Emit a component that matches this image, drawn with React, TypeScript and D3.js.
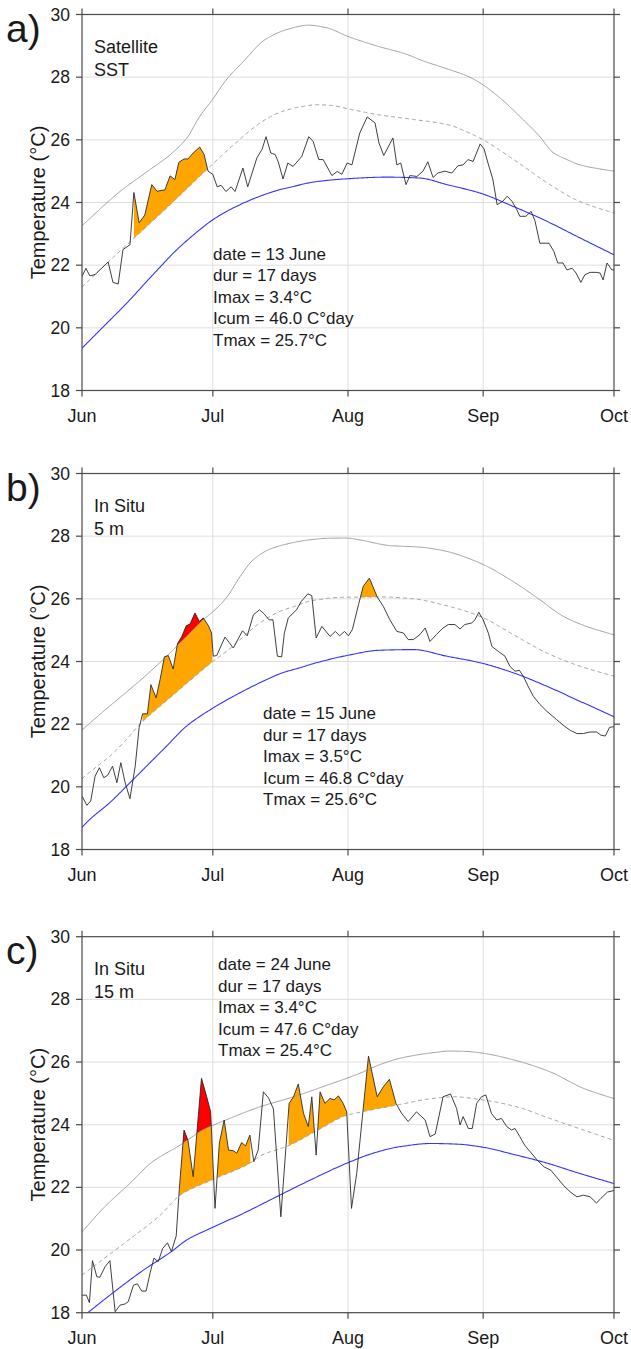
import React from 'react';
import * as d3 from 'd3';

// ---------------- data ----------------
const monthTickDays = [0, 30, 61, 92, 122];
const monthLabels = ['Jun', 'Jul', 'Aug', 'Sep', 'Oct'];
const tempTicks = [18, 20, 22, 24, 26, 28, 30];

// Panel a) Satellite SST  [day since 1 June, °C]
const obsA: [number, number][] = [
  [0, 21.64], [0.9, 21.9], [1.8, 21.66], [3, 21.7], [4.1, 21.85], [6, 22.1], [7.1, 21.45], [8.3, 21.4],
  [9.4, 22.5], [11, 22.65], [11.9, 24.32], [13.1, 23.35], [14.4, 23.6], [16, 24.57], [17.2, 24.36],
  [19, 24.4], [20.2, 24.85], [21.3, 24.73], [22.2, 25.28], [23.4, 25.39], [24.3, 25.39], [25.5, 25.58],
  [27, 25.77], [28, 25.53], [28.9, 25.0], [30, 24.9], [31, 24.5], [31.9, 24.55], [33, 24.35], [34.2, 24.5],
  [35.1, 24.35], [36.9, 25.1], [38, 24.5], [40.1, 25.42], [41.3, 25.7], [42.2, 26.1], [43.3, 25.58],
  [44.3, 25.53], [45, 25.3], [46.1, 24.75], [47.2, 25.26], [48.4, 25.15], [50.4, 25.47], [52, 26.1],
  [53, 25.95], [54.3, 25.37], [55.3, 25.37], [57.3, 24.86], [58.5, 24.99], [59.6, 24.9], [60.8, 25.26],
  [61.9, 25.2], [63.7, 26.22], [65.4, 26.73], [67.2, 26.54], [68.1, 25.9], [69.2, 25.5], [71.3, 26.06],
  [72.2, 25.2], [73.1, 25.26], [74.3, 24.57], [75.2, 24.86], [76.8, 24.83], [78.2, 25.0], [79.3, 25.3],
  [80.5, 24.8], [81.6, 24.94], [83.2, 25.0], [84.8, 24.94], [86.2, 25.17], [87.4, 25.2], [88.5, 25.37],
  [89.7, 25.31], [91.3, 25.87], [92.2, 25.71], [93.1, 25.26], [94.2, 24.75], [95.2, 23.93], [96.5, 24.04],
  [97.5, 24.2], [98.6, 24.04], [99.7, 23.77], [100.4, 23.56], [101.8, 23.56], [103, 23.72], [103.9, 23.4],
  [105, 22.7], [106.2, 22.7], [107.1, 22.7], [108.2, 22.44], [109.1, 22.07], [110.3, 22.07], [111.2, 21.85],
  [112.4, 21.9], [113.3, 21.75], [114.4, 21.45], [115.3, 21.69], [116.5, 21.77], [117.9, 21.77],
  [118.8, 21.75], [119.5, 21.53], [120.4, 22.07], [121.5, 21.85], [122, 21.85],
];
const threshA: [number, number][] = [
  [0, 21.3], [6, 22.1], [12, 22.87], [20, 23.9], [29, 25.1], [35, 25.87], [41.5, 26.6], [45.4, 26.88],
  [50, 27.05], [54, 27.12], [57, 27.1], [61, 26.99], [68, 26.8], [76, 26.65], [84, 26.48], [88, 26.27],
  [92, 26.0], [99, 25.37], [107, 24.6], [114, 24.04], [122, 23.66],
];
const upperA: [number, number][] = [
  [0, 23.26], [8.7, 24.35], [15.6, 25.05], [20, 25.5], [24, 26.05], [27, 26.75], [30, 27.3], [33, 27.9],
  [37, 28.5], [42, 29.2], [47, 29.52], [52, 29.66], [56, 29.58], [61, 29.3], [67.5, 29.0], [74, 28.75],
  [78.6, 28.5], [83, 28.3], [88.9, 28.0], [92, 27.75], [96, 27.32], [100.4, 26.75], [105, 26.1],
  [108, 25.6], [111.2, 25.37], [114.2, 25.2], [118.8, 25.07], [122, 25.0],
];
const climA: [number, number][] = [
  [0, 19.35], [5, 20.05], [10, 20.75], [16.3, 21.7], [21.8, 22.5], [27, 23.13], [30, 23.45], [34.6, 23.82],
  [40.8, 24.2], [45.4, 24.41], [48.4, 24.51], [53, 24.65], [60, 24.75], [70, 24.81], [77.5, 24.78],
  [83.7, 24.57], [91.3, 24.3], [98.8, 23.88], [106.6, 23.4], [114.2, 22.87], [122, 22.33],
];
const eventsA: [number, number][] = [[11.9, 29.2]];
const strongA: [number, number][] = [];
const labelA = ['Satellite', 'SST'];
const statsA = ['date = 13 June', 'dur = 17 days', 'Imax = 3.4°C', 'Icum = 46.0 C°day', 'Tmax = 25.7°C'];

// Panel b) In Situ 5 m
const obsB: [number, number][] = [
  [0, 19.71], [1.1, 19.41], [2, 19.55], [3, 20.34], [4, 20.61], [5, 20.29], [5.9, 20.37], [7, 20.66],
  [8, 20.13], [8.9, 20.77], [9.9, 20.13], [11, 19.62], [12.2, 20.66], [13.1, 21.89], [13.9, 22.33],
  [15, 22.33], [15.8, 23.26], [17, 22.84], [17.9, 23.42], [18.9, 24.15], [19.8, 24.19], [20.9, 23.76],
  [21.9, 24.57], [22.9, 24.8], [23.9, 25.14], [24.8, 25.2], [25.9, 25.55], [26.9, 25.28], [27.8, 25.39],
  [29, 25.14], [29.7, 24.91], [30.1, 24.17], [30.9, 24.19], [32.8, 24.78], [34.7, 24.43], [36.8, 24.98],
  [37.9, 24.82], [39.3, 25.49], [40.7, 25.65], [41.7, 25.53], [42.9, 25.33], [43.8, 25.33], [44.8, 24.17],
  [45.8, 24.15], [46.4, 24.9], [47.3, 25.39], [49.2, 25.65], [50.3, 25.92], [51.8, 26.16], [52.7, 26.1],
  [53.7, 24.75], [55, 25.12], [56.9, 24.8], [58.1, 24.96], [59.1, 24.82], [60.2, 24.96], [61.1, 24.82],
  [62, 25.02], [63.4, 25.81], [64.5, 26.4], [65.9, 26.66], [67.7, 26.06], [69.1, 25.76], [70.6, 25.33],
  [72.2, 24.96], [73.7, 24.91], [74.8, 24.7], [76, 24.7], [77.5, 24.86], [78.7, 25.07], [79.8, 24.64],
  [81.3, 24.86], [82.8, 25.07], [84, 25.18], [85.5, 25.18], [86.7, 25.04], [87.8, 25.18], [89.4, 25.23],
  [90.1, 25.33], [91, 25.57], [92, 25.33], [93.2, 24.9], [94, 24.48], [95.5, 24.32], [97, 24.17],
  [98.1, 23.85], [99.3, 23.69], [100.3, 23.72], [101.2, 23.53], [102.3, 23.21], [103.5, 22.89],
  [105, 22.63], [106.6, 22.41], [108.8, 22.15], [110.5, 21.95], [112, 21.8], [113.5, 21.7], [115, 21.7],
  [116.5, 21.75], [118, 21.75], [119, 21.65], [120, 21.62], [121, 21.9], [122, 21.92],
];
const threshB: [number, number][] = [
  [0, 20.26], [2.6, 20.56], [6.4, 20.98], [10.2, 21.51], [13.3, 22.0], [20, 22.82], [25, 23.42], [30, 24.0],
  [33.2, 24.33], [40.8, 25.23], [45.4, 25.6], [48.5, 25.75], [53, 25.95], [60, 26.05], [68.3, 26.06],
  [76, 26.0], [83.6, 25.78], [91.3, 25.44], [98.9, 24.86], [106.6, 24.27], [114.2, 23.85], [122, 23.53],
];
const upperB: [number, number][] = [
  [0, 21.81], [5, 22.42], [10, 23.0], [15, 23.6], [20, 24.25], [24, 24.8], [27.8, 25.33], [30.5, 25.65],
  [33.2, 26.05], [36.2, 26.7], [39.3, 27.25], [43, 27.58], [47, 27.75], [51.5, 27.87], [56, 27.93],
  [60.6, 27.94], [63.7, 27.88], [70.6, 27.7], [77.5, 27.65], [82.8, 27.54], [91.3, 27.14], [98.9, 26.55],
  [105, 25.97], [110.4, 25.44], [115.7, 25.12], [122, 24.85],
];
const climB: [number, number][] = [
  [0, 18.71], [1.8, 18.96], [6.4, 19.5], [11, 20.13], [14.8, 20.66], [19.4, 21.3], [24, 21.94], [30.1, 22.52],
  [36.2, 23.0], [42.3, 23.42], [46, 23.64], [50, 23.8], [53, 23.93], [60.7, 24.19], [68.3, 24.36],
  [76, 24.38], [83.6, 24.17], [91.3, 23.96], [98.9, 23.64], [106.6, 23.21], [114.2, 22.73], [122, 22.24],
];
const eventsB: [number, number][] = [[13.9, 29.9], [63, 69]];
const strongB: [number, number][] = [[21.5, 28.5]];
const labelB = ['In Situ', '5 m'];
const statsB = ['date = 15 June', 'dur = 17 days', 'Imax = 3.5°C', 'Icum = 46.8 C°day', 'Tmax = 25.6°C'];

// Panel c) In Situ 15 m
const obsC: [number, number][] = [
  [0, 18.56], [1, 18.56], [1.7, 18.32], [2.4, 19.66], [3.4, 19.15], [4.1, 19.13], [5.3, 19.47], [6.4, 19.66],
  [7.6, 18.03], [8.7, 18.24], [9.9, 18.28], [10.6, 18.35], [11.8, 18.88], [12.7, 18.92], [13.7, 18.69],
  [14.7, 18.69], [15.6, 19.26], [16.5, 19.74], [17.5, 19.63], [18.5, 20.05], [19.6, 20.23], [20.5, 19.95],
  [21.6, 20.45], [22.3, 21.92], [23.4, 23.83], [24.3, 23.5], [25.5, 22.34], [27.4, 25.48], [28.6, 24.89],
  [29.5, 24.41], [30.5, 21.33], [31.5, 23.41], [32.6, 24.15], [33.6, 23.19], [34.7, 23.17], [35.5, 23.09],
  [36.6, 23.43], [37.5, 23.32], [38.5, 23.67], [39.4, 22.82], [40.4, 23.19], [41.6, 25.05], [42.8, 24.85],
  [43.9, 24.5], [45.6, 21.06], [47.5, 24.68], [48.5, 24.89], [49.6, 25.3], [50.8, 24.36], [51.9, 23.94],
  [52.7, 24.89], [53.7, 23.03], [54.6, 25.05], [55.7, 24.68], [56.9, 24.84], [57.8, 24.79], [58.8, 24.92],
  [59.9, 24.68], [60.7, 24.41], [61.8, 21.33], [63, 22.45], [65.7, 26.19], [67.7, 24.89], [69.1, 25.21],
  [70.5, 25.45], [72, 24.68], [73.3, 24.36], [74.8, 24.1], [76.7, 24.41], [78.7, 24.15], [79.8, 23.62],
  [81, 23.7], [82.8, 24.89], [84.5, 24.98], [85.9, 24.52], [86.7, 23.99], [87.4, 24.26], [88.6, 23.88],
  [89.5, 23.88], [90.5, 24.68], [91.6, 24.89], [92.6, 24.95], [93.9, 24.36], [95.1, 24.15], [96.2, 24.2],
  [97.4, 23.94], [98.5, 23.83], [99.3, 23.88], [100.4, 23.62], [101.5, 23.35], [103, 23.1], [104.5, 22.85],
  [106, 22.65], [107.5, 22.55], [109, 22.3], [110.5, 22.05], [112, 21.85], [113.5, 21.7], [115, 21.75],
  [116.5, 21.7], [118, 21.5], [119, 21.65], [120.5, 21.85], [122, 21.9],
];
const threshC: [number, number][] = [
  [0, 19.2], [10.2, 20.27], [18, 21.12], [22.5, 21.75], [30, 22.25], [38.5, 22.77], [40.8, 23.0],
  [47.7, 23.35], [54, 23.82], [60.7, 24.3], [64.5, 24.42], [72, 24.62], [80.6, 24.84], [85.1, 24.89],
  [92, 24.79], [99.7, 24.57], [107.3, 24.2], [115, 23.83], [122, 23.5],
];
const upperC: [number, number][] = [
  [0, 20.58], [5, 21.35], [11, 22.13], [16, 22.8], [22.5, 23.35], [28, 23.85], [33, 24.15], [40.8, 24.57],
  [48.5, 24.89], [56, 25.25], [63.7, 25.64], [68, 25.9], [72.9, 26.12], [80.6, 26.3], [84.4, 26.35],
  [88, 26.34], [92, 26.28], [99.7, 26.04], [107.3, 25.69], [115, 25.16], [122, 24.83],
];
const climC: [number, number][] = [
  [0, 17.85], [6.4, 18.56], [14.1, 19.36], [20.5, 19.95], [24, 20.32], [29.4, 20.69], [37, 21.17],
  [44.6, 21.7], [52.3, 22.23], [60.7, 22.77], [67, 23.1], [73, 23.3], [80, 23.4], [86, 23.38], [92, 23.28],
  [99, 23.05], [106, 22.8], [114, 22.45], [122, 22.12],
];
const eventsC: [number, number][] = [[22.3, 38.6], [47.4, 60.7], [64.5, 72.0]];
const strongC: [number, number][] = [[22.3, 30]];
const labelC = ['In Situ', '15 m'];
const statsC = ['date = 24 June', 'dur = 17 days', 'Imax = 3.4°C', 'Icum = 47.6 C°day', 'Tmax = 25.4°C'];

// ---------------- layout ----------------
const W = 631;
const H = 1349;
const X0 = 82;
const X1 = 614;
const PH = 376;
const FONT = 'Liberation Sans, Arial, Helvetica, sans-serif';
const BASE = Date.UTC(2000, 5, 1);
const DAY = 864e5;

function monotone(pts: [number, number][]) {
  const xs = pts.map((p) => p[0]);
  const ys = pts.map((p) => p[1]);
  const n = xs.length;
  const d: number[] = [];
  for (let i = 0; i < n - 1; i++) d.push((ys[i + 1] - ys[i]) / (xs[i + 1] - xs[i]));
  const m: number[] = new Array(n).fill(0);
  m[0] = d[0];
  m[n - 1] = d[n - 2];
  for (let i = 1; i < n - 1; i++) {
    if (d[i - 1] * d[i] <= 0) m[i] = 0;
    else {
      const h0 = xs[i] - xs[i - 1];
      const h1 = xs[i + 1] - xs[i];
      const w1 = 2 * h1 + h0;
      const w2 = h1 + 2 * h0;
      m[i] = (w1 + w2) / (w1 / d[i - 1] + w2 / d[i]);
    }
  }
  const bis = d3.bisector((v: number) => v).right;
  return (x: number) => {
    let i = bis(xs, x) - 1;
    i = Math.max(0, Math.min(n - 2, i));
    const h = xs[i + 1] - xs[i];
    const t = (x - xs[i]) / h;
    const t2 = t * t;
    const t3 = t2 * t;
    return (
      (2 * t3 - 3 * t2 + 1) * ys[i] +
      (t3 - 2 * t2 + t) * h * m[i] +
      (-2 * t3 + 3 * t2) * ys[i + 1] +
      (t3 - t2) * h * m[i + 1]
    );
  };
}

function linear(pts: [number, number][]) {
  const xs = pts.map((p) => p[0]);
  const ys = pts.map((p) => p[1]);
  const bis = d3.bisector((v: number) => v).right;
  return (x: number) => {
    let i = bis(xs, x) - 1;
    i = Math.max(0, Math.min(xs.length - 2, i));
    const t = (x - xs[i]) / (xs[i + 1] - xs[i]);
    return ys[i] + t * (ys[i + 1] - ys[i]);
  };
}

interface PanelCfg {
  letter: string;
  top: number;
  obs: [number, number][];
  thresh: [number, number][];
  upper: [number, number][];
  clim: [number, number][];
  events: [number, number][];
  strong: [number, number][];
  label: string[];
  stats: string[];
  statsX: number;
  statsY: number;
}

const panels: PanelCfg[] = [
  { letter: 'a)', top: 14.5, obs: obsA, thresh: threshA, upper: upperA, clim: climA, events: eventsA, strong: strongA, label: labelA, stats: statsA, statsX: 213, statsY: 245 },
  { letter: 'b)', top: 473.5, obs: obsB, thresh: threshB, upper: upperB, clim: climB, events: eventsB, strong: strongB, label: labelB, stats: statsB, statsX: 263, statsY: 245.5 },
  { letter: 'c)', top: 936.7, obs: obsC, thresh: threshC, upper: upperC, clim: climC, events: eventsC, strong: strongC, label: labelC, stats: statsC, statsX: 218, statsY: 33.5 },
];

function Panel({ cfg, idx }: { cfg: PanelCfg; idx: number }) {
  const top = cfg.top;
  const bottom = top + PH;
  const xT = d3.scaleUtc().domain([new Date(BASE), new Date(BASE + 122 * DAY)]).range([X0, X1]);
  const x = (d: number) => xT(new Date(BASE + d * DAY));
  const y = d3.scaleLinear().domain([18, 30]).range([bottom, top]);

  const fObs = linear(cfg.obs);
  const fThr = monotone(cfg.thresh);
  const fUp = monotone(cfg.upper);
  const fClim = monotone(cfg.clim);

  const grid = d3.range(0, 122.001, 0.25);
  const smooth = (f: (v: number) => number) =>
    d3.line<number>().x((d) => x(d)).y((d) => y(f(d)))(grid) || '';

  const obsPath = d3.line<[number, number]>().x((d) => x(d[0])).y((d) => y(d[1]))(cfg.obs) || '';

  const fillPath = (s: number, e: number, base: (v: number) => number) => {
    const ts = new Set<number>();
    for (let t = s; t < e; t += 0.02) ts.add(+t.toFixed(3));
    ts.add(e);
    cfg.obs.forEach((p) => { if (p[0] >= s && p[0] <= e) ts.add(p[0]); });
    const arr = Array.from(ts).sort((a, b) => a - b);
    return (
      d3
        .area<number>()
        .x((t) => x(t))
        .y0((t) => y(base(t)))
        .y1((t) => y(Math.max(fObs(t), base(t))))(arr) || ''
    );
  };

  const clipId = `clip${idx}`;
  const axisColor = '#4a4a4a';
  const textColor = '#1a1a1a';

  return (
    <g>
      <defs>
        <clipPath id={clipId}>
          <rect x={X0} y={top} width={X1 - X0} height={PH} />
        </clipPath>
      </defs>
      {tempTicks.slice(1, -1).map((t) => (
        <line key={'gy' + t} x1={X0} x2={X1} y1={y(t)} y2={y(t)} stroke="#dedede" strokeWidth={1} />
      ))}
      {monthTickDays.slice(1, -1).map((d) => (
        <line key={'gx' + d} x1={x(d)} x2={x(d)} y1={top} y2={bottom} stroke="#dedede" strokeWidth={1} />
      ))}
      <g clipPath={`url(#${clipId})`}>
        {cfg.events.map((ev, i) => (
          <path key={'ev' + i} d={fillPath(ev[0], ev[1], fThr)} fill="#FFA500" stroke="none" />
        ))}
        {cfg.strong.map((ev, i) => (
          <path key={'st' + i} d={fillPath(ev[0], ev[1], fUp)} fill="#FF0000" stroke="none" />
        ))}
        <path d={smooth(fUp)} fill="none" stroke="#a0a0a0" strokeWidth={1} />
        <path d={smooth(fThr)} fill="none" stroke="#a0a0a0" strokeWidth={1} strokeDasharray="4,3" />
        <path d={smooth(fClim)} fill="none" stroke="#3535ff" strokeWidth={1.1} />
        <path d={obsPath} fill="none" stroke="#2a2a2a" strokeWidth={0.9} strokeLinejoin="round" />
      </g>
      <rect x={X0} y={top} width={X1 - X0} height={PH} fill="none" stroke={axisColor} strokeWidth={1.2} />
      {tempTicks.map((t) => (
        <g key={'ty' + t}>
          <line x1={X0 - 6} x2={X0} y1={y(t)} y2={y(t)} stroke={axisColor} strokeWidth={1.2} />
          <line x1={X1} x2={X1 + 6} y1={y(t)} y2={y(t)} stroke={axisColor} strokeWidth={1.2} />
          <text x={X0 - 12} y={y(t)} dy="0.35em" textAnchor="end" fontSize={17.5} fill={textColor}>
            {t}
          </text>
        </g>
      ))}
      {monthTickDays.map((d, i) => (
        <g key={'tx' + d}>
          <line x1={x(d)} x2={x(d)} y1={bottom} y2={bottom + 6} stroke={axisColor} strokeWidth={1.2} />
          <line x1={x(d)} x2={x(d)} y1={top - 6} y2={top} stroke={axisColor} strokeWidth={1.2} />
          <text x={x(d)} y={bottom + 31} textAnchor="middle" fontSize={18} fill={textColor}>
            {monthLabels[i]}
          </text>
        </g>
      ))}
      <text
        transform={`translate(38,${top + PH / 2}) rotate(-90)`}
        textAnchor="middle"
        dy="0.35em"
        fontSize={20}
        fill={textColor}
      >
        Temperature (°C)
      </text>
      <text x={6} y={top + 27} fontSize={39} fill={textColor}>
        {cfg.letter}
      </text>
      {cfg.label.map((s, i) => (
        <text key={'lb' + i} x={94} y={top + 38.5 + i * 22.5} fontSize={18} fill={textColor}>
          {s}
        </text>
      ))}
      {cfg.stats.map((s, i) => (
        <text key={'stt' + i} x={cfg.statsX} y={top + cfg.statsY + i * 21.5} fontSize={17} fill={textColor}>
          {s}
        </text>
      ))}
    </g>
  );
}

export default function App() {
  return (
    <svg
      width={W}
      height={H}
      viewBox={`0 0 ${W} ${H}`}
      style={{ position: 'absolute', left: 0, top: 0, background: '#fff' }}
      fontFamily={FONT}
    >
      <rect x={0} y={0} width={W} height={H} fill="#fff" />
      {panels.map((p, i) => (
        <Panel key={i} cfg={p} idx={i} />
      ))}
    </svg>
  );
}
